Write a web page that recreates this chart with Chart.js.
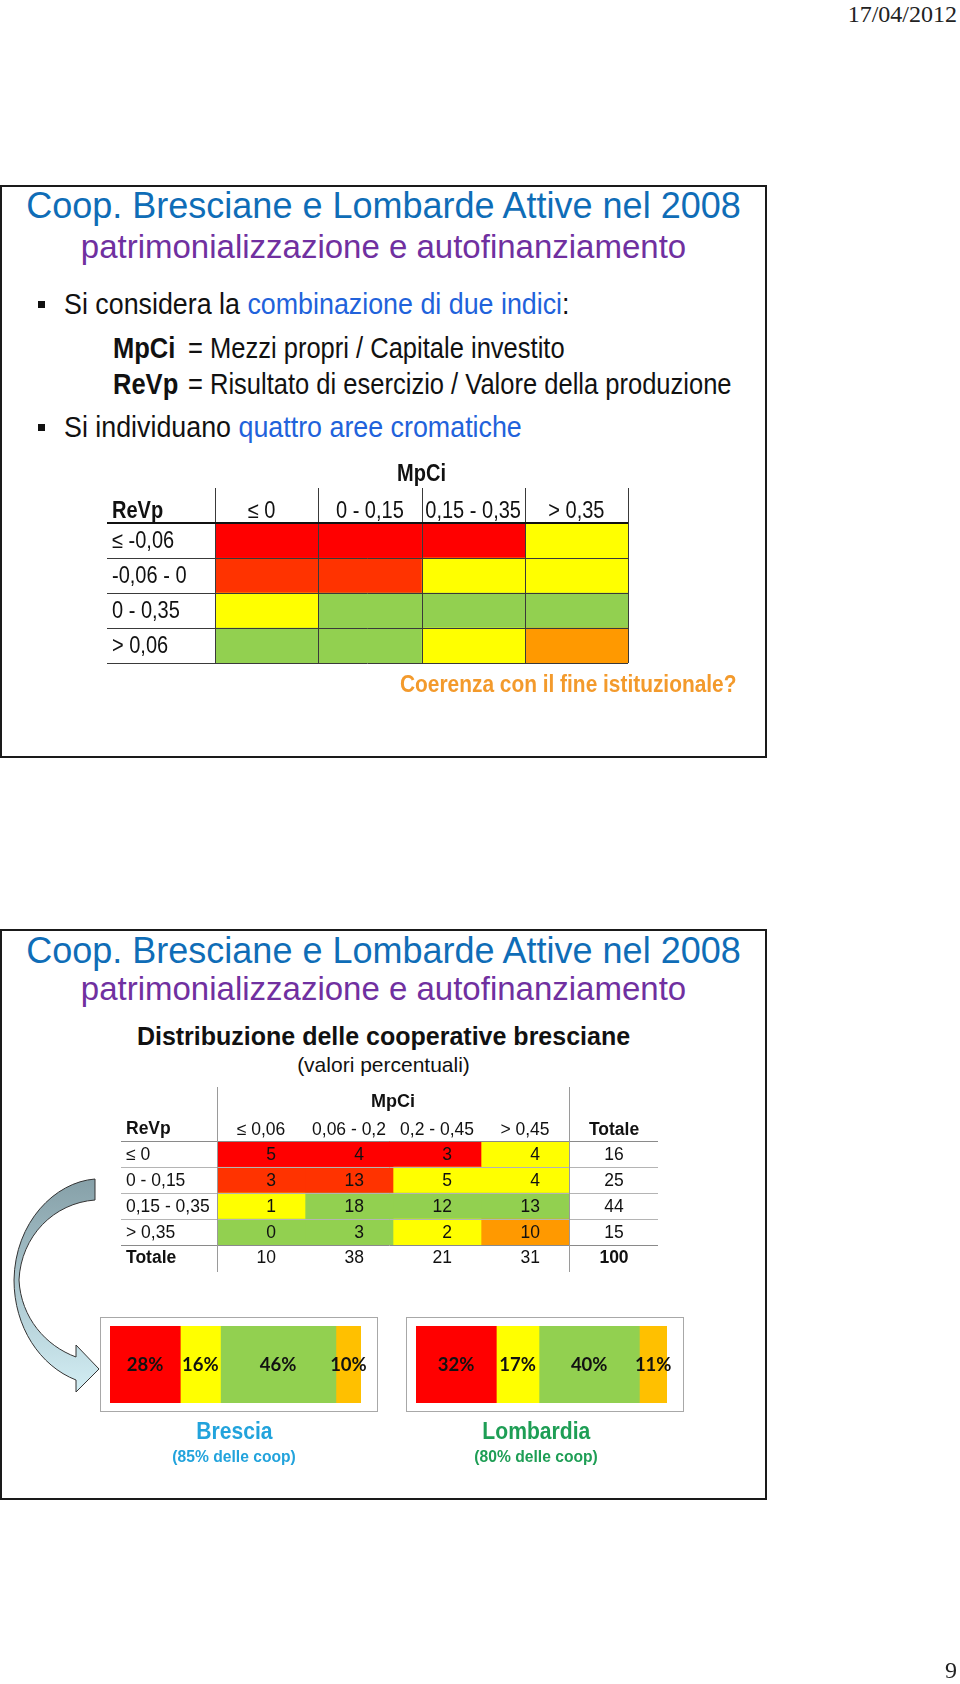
<!DOCTYPE html>
<html lang="it">
<head>
<meta charset="UTF-8">
<title>Coop. Bresciane e Lombarde Attive nel 2008</title>
<script src="https://cdn.jsdelivr.net/npm/chart.js"></script>
<style>
    body { margin: 0; background: #fff; font-family: 'Liberation Sans', Arial, sans-serif; }
    #page { position: relative; width: 960px; height: 1684px; overflow: hidden; }
    .abs { position: absolute; white-space: nowrap; line-height: 40px; height: 40px; }
    .slide { position: absolute; left: 0; width: 767px; box-sizing: border-box; border: 2px solid #1a1a1a; }
    .serif { font-family: 'Liberation Serif', serif; font-size: 24px; color: #222; }
    .title { left: 0; width: 767px; text-align: center; font-size: 36px; color: #0F6DB7; }
    .subtitle { left: 0; width: 767px; text-align: center; font-size: 33px; color: #7030A0; }
    .narrow { transform: scaleX(0.925); transform-origin: 0 50%; }
    .narrower { transform: scaleX(0.88); transform-origin: 0 50%; }
    .body1 { font-size: 29px; color: #111; }
    .blue { color: #2162DB; }
    .bullet { position: absolute; width: 7px; height: 7px; background: #111; }
    canvas { position: absolute; }
</style>
</head>
<body>
<div id="page">
    <div class="abs serif" style="right:3px; top:-6px;">17/04/2012</div>

    <!-- slide 1 -->
    <div class="slide" style="top:185px; height:573px;"></div>
    <div class="abs title" style="top:186px;">Coop. Bresciane e Lombarde Attive nel 2008</div>
    <div class="abs subtitle" style="top:227px;">patrimonializzazione e autofinanziamento</div>

    <div class="bullet" style="left:38px; top:301px;"></div>
    <div class="abs body1 narrow" style="left:64px; top:284px;">Si considera la <span class="blue">combinazione di due indici</span>:</div>
    <div class="abs body1 narrower" style="left:113px; top:328px;"><b>MpCi</b></div>
    <div class="abs body1 narrower" style="left:188px; top:328px;">= Mezzi propri / Capitale investito</div>
    <div class="abs body1 narrower" style="left:113px; top:364px;"><b>ReVp</b></div>
    <div class="abs body1 narrower" style="left:188px; top:364px;">= Risultato di esercizio / Valore della produzione</div>
    <div class="bullet" style="left:38px; top:424px;"></div>
    <div class="abs body1 narrow" style="left:64px; top:407px;">Si individuano <span class="blue">quattro aree cromatiche</span></div>

    <canvas id="grid1" width="545" height="210" style="left:100px; top:460px;"></canvas>
    <div class="abs" style="left:400px; top:664px; font-size:24px; font-weight:bold; color:#F39A2C;"><span style="display:inline-block; transform:scaleX(0.87); transform-origin:0 50%;">Coerenza con il fine istituzionale?</span></div>

    <!-- slide 2 -->
    <div class="slide" style="top:929px; height:571px;"></div>
    <div class="abs title" style="top:931px;">Coop. Bresciane e Lombarde Attive nel 2008</div>
    <div class="abs subtitle" style="top:969px;">patrimonializzazione e autofinanziamento</div>
    <div class="abs" style="left:0; width:767px; text-align:center; top:1016px; font-size:25px; font-weight:bold; color:#111;">Distribuzione delle cooperative bresciane</div>
    <div class="abs" style="left:0; width:767px; text-align:center; top:1045px; font-size:21px; color:#111;">(valori percentuali)</div>

    <canvas id="grid2" width="560" height="195" style="left:110px; top:1085px;"></canvas>

    <svg class="abs" style="left:0; top:0; height:1684px; line-height:normal;" width="960" height="1684">
        <defs>
            <linearGradient id="arrowFill" x1="0" y1="0" x2="0" y2="1">
                <stop offset="0" stop-color="#86a0a8"/>
                <stop offset="0.5" stop-color="#aac6ce"/>
                <stop offset="1" stop-color="#d3eef4"/>
            </linearGradient>
        </defs>
        <path d="M 95 1179 C 55 1182, 15 1222, 14 1280 C 14 1327, 40 1366, 76 1380 L 76 1392 L 99 1369 L 76 1345 L 76 1357 C 46 1346, 21 1318, 19 1280 C 21 1236, 54 1203, 95 1200 Z"
              fill="url(#arrowFill)" stroke="#333" stroke-width="1"/>
    </svg>

    <div style="position:absolute; left:100px; top:1317px; width:278px; height:95px; box-sizing:border-box; border:1.5px solid #a8a8a8;"></div>
    <canvas id="barBrescia" width="278" height="95" style="left:100px; top:1317px;"></canvas>
    <div style="position:absolute; left:406px; top:1317px; width:278px; height:95px; box-sizing:border-box; border:1.5px solid #a8a8a8;"></div>
    <canvas id="barLombardia" width="278" height="95" style="left:406px; top:1317px;"></canvas>

    <div class="abs" style="left:134px; width:200px; text-align:center; top:1411px; font-size:24px; font-weight:bold; color:#22A3DC;"><span style="display:inline-block; transform:scaleX(0.88);">Brescia</span></div>
    <div class="abs" style="left:134px; width:200px; text-align:center; top:1437px; font-size:17px; font-weight:bold; color:#22A3DC;"><span style="display:inline-block; transform:scaleX(0.92);">(85% delle coop)</span></div>
    <div class="abs" style="left:436px; width:200px; text-align:center; top:1411px; font-size:24px; font-weight:bold; color:#1E9E55;"><span style="display:inline-block; transform:scaleX(0.88);">Lombardia</span></div>
    <div class="abs" style="left:436px; width:200px; text-align:center; top:1437px; font-size:17px; font-weight:bold; color:#1E9E55;"><span style="display:inline-block; transform:scaleX(0.92);">(80% delle coop)</span></div>

    <div class="abs serif" style="right:3px; top:1650px;">9</div>
</div>

<script>
    // --- data ---
    // slide 1: schema of the colour areas
    const mpciBands1 = ['≤ 0', '0 - 0,15', '0,15 - 0,35', '> 0,35'];
    const revpBands1 = ['≤ -0,06', '-0,06 - 0', '0 - 0,35', '> 0,06'];
    const areas1 = [
        ['rosso', 'rosso', 'rosso', 'giallo'],
        ['rossoarancio', 'rossoarancio', 'giallo', 'giallo'],
        ['giallo', 'verde', 'verde', 'verde'],
        ['verde', 'verde', 'giallo', 'arancio']
    ];

    // slide 2: distribution of the Brescia coops (percent)
    const mpciBands2 = ['≤ 0,06', '0,06 - 0,2', '0,2 - 0,45', '> 0,45'];
    const revpBands2 = ['≤ 0', '0 - 0,15', '0,15 - 0,35', '> 0,35'];
    const areas2 = [
        ['rosso', 'rosso', 'rosso', 'giallo'],
        ['rossoarancio', 'rossoarancio', 'giallo', 'giallo'],
        ['giallo', 'verde', 'verde', 'verde'],
        ['verde', 'verde', 'giallo', 'arancio']
    ];
    const distrib = [
        [5, 4, 3, 4],
        [3, 13, 5, 4],
        [1, 18, 12, 13],
        [0, 3, 2, 10]
    ];
    const rowTotals = [16, 25, 44, 15];
    const colTotals = [10, 38, 21, 31];
    const grandTotal = 100;

    // share of coops in each colour area
    const barAreas = ['rosso', 'giallo', 'verde', 'arancio'];
    const shareBrescia = [28, 16, 46, 10];
    const shareLombardia = [32, 17, 40, 11];

    // --- styles ---
    const cellColors = {
        rosso: '#FF0000', rossoarancio: '#FF3300', giallo: '#FFFF00', verde: '#92D050', arancio: '#FF9900'
    };
    const barColors = { rosso: '#FF0000', giallo: '#FFFF00', verde: '#92D050', arancio: '#FFC000' };

    Chart.defaults.font.family = "'Liberation Sans', Arial, sans-serif";

    function text(ctx, s, x, y, align, font, sx) {
        ctx.save();
        ctx.font = font;
        ctx.textBaseline = 'middle';
        ctx.textAlign = align;
        ctx.translate(x, y);
        ctx.scale(sx || 1, 1);
        ctx.fillText(s, 0, 0);
        ctx.restore();
    }
    function line(ctx, x1, y1, x2, y2) {
        ctx.beginPath();
        ctx.moveTo(x1, y1);
        ctx.lineTo(x2, y2);
        ctx.stroke();
    }

    // one floating bar per cell: dataset = column, category = row
    function gridConfig(rows, cols, areas, padding, plugin) {
        return {
            type: 'bar',
            data: {
                labels: rows,
                datasets: cols.map((c, j) => ({
                    label: c,
                    data: rows.map(() => [j, j + 1]),
                    backgroundColor: rows.map((r, i) => cellColors[areas[i][j]]),
                    borderWidth: 0,
                    grouped: false,
                    barPercentage: 1,
                    categoryPercentage: 1
                }))
            },
            options: {
                indexAxis: 'y',
                responsive: false,
                animation: false,
                devicePixelRatio: 1,
                events: [],
                layout: { padding: padding },
                plugins: { legend: { display: false }, tooltip: { enabled: false } },
                scales: {
                    x: { type: 'linear', min: 0, max: cols.length, display: false },
                    y: { display: false }
                }
            },
            plugins: [plugin]
        };
    }

    // slide 1 table
    const grid1Plugin = {
        id: 'grid1Text',
        afterDatasetsDraw(chart) {
            const { ctx, chartArea: a, scales: { x, y } } = chart;
            const n = revpBands1.length;
            const rowH = (a.bottom - a.top) / n;
            const f = '23px "Liberation Sans", Arial, sans-serif';
            const fb = 'bold 23px "Liberation Sans", Arial, sans-serif';
            ctx.save();
            ctx.strokeStyle = '#3a3a3a';
            ctx.lineWidth = 1;
            for (let j = 0; j <= mpciBands1.length; j++) {
                const px = Math.round(x.getPixelForValue(j)) + 0.5;
                line(ctx, px, 28, px, a.bottom);
            }
            for (let i = 1; i <= n; i++) {
                const py = Math.round(a.top + i * rowH) + 0.5;
                line(ctx, 7, py, a.right, py);
            }
            ctx.strokeStyle = '#111';
            ctx.lineWidth = 2;
            line(ctx, 7, a.top, a.right, a.top);

            ctx.fillStyle = '#111';
            text(ctx, 'MpCi', (a.left + a.right) / 2, 15, 'center', fb, 0.87);
            text(ctx, 'ReVp', 12, 52, 'left', fb, 0.87);
            mpciBands1.forEach((c, j) => {
                text(ctx, c, x.getPixelForValue(j + 0.5) - (j === 0 ? 5 : 0), 52, 'center', f, 0.87);
            });
            revpBands1.forEach((r, i) => {
                text(ctx, r, 12, y.getPixelForValue(i) + 1, 'left', f, 0.87);
            });
            ctx.restore();
        }
    };
    new Chart(document.getElementById('grid1'),
        gridConfig(revpBands1, mpciBands1, areas1, { left: 115, top: 63, right: 17, bottom: 7 }, grid1Plugin));

    // slide 2 table
    const grid2Plugin = {
        id: 'grid2Text',
        afterDatasetsDraw(chart) {
            const { ctx, chartArea: a, scales: { x, y } } = chart;
            const n = revpBands2.length;
            const rowH = (a.bottom - a.top) / n;
            const f = '17.5px "Liberation Sans", Arial, sans-serif';
            const fb = 'bold 17.5px "Liberation Sans", Arial, sans-serif';
            const totX = 504;
            ctx.save();
            ctx.strokeStyle = '#b4b4b4';
            ctx.lineWidth = 1;
            for (let i = 1; i < n; i++) {
                const py = Math.round(a.top + i * rowH) + 0.5;
                line(ctx, 11, py, 548, py);
            }
            ctx.strokeStyle = '#8a8a8a';
            line(ctx, 11, Math.round(a.top) + 0.5, 548, Math.round(a.top) + 0.5);
            line(ctx, 11, Math.round(a.bottom) + 0.5, 548, Math.round(a.bottom) + 0.5);
            ctx.strokeStyle = '#9a9a9a';
            [0, mpciBands2.length].forEach(j => {
                const px = Math.round(x.getPixelForValue(j)) + 0.5;
                line(ctx, px, 2, px, 187);
            });

            ctx.fillStyle = '#111';
            text(ctx, 'MpCi', (a.left + a.right) / 2, 17, 'center', 'bold 18px "Liberation Sans", Arial, sans-serif');
            text(ctx, 'ReVp', 16, 44, 'left', fb);
            text(ctx, 'Totale', totX, 45, 'center', fb);
            mpciBands2.forEach((c, j) => {
                text(ctx, c, x.getPixelForValue(j + 0.5), 45, 'center', f);
            });
            revpBands2.forEach((r, i) => {
                const cy = y.getPixelForValue(i) + 1;
                text(ctx, r, 16, cy, 'left', f);
                distrib[i].forEach((v, j) => {
                    text(ctx, String(v), x.getPixelForValue(j + 1) - 29, cy, 'right', f);
                });
                text(ctx, String(rowTotals[i]), totX, cy, 'center', f);
            });
            const ty = a.bottom + 13;
            text(ctx, 'Totale', 16, ty, 'left', fb);
            colTotals.forEach((v, j) => {
                text(ctx, String(v), x.getPixelForValue(j + 1) - 29, ty, 'right', f);
            });
            text(ctx, String(grandTotal), totX, ty, 'center', fb);
            ctx.restore();
        }
    };
    new Chart(document.getElementById('grid2'),
        gridConfig(revpBands2, mpciBands2, areas2, { left: 107, top: 56, right: 101, bottom: 35 }, grid2Plugin));

    // stacked share bars
    const shareLabels = {
        id: 'shareLabels',
        afterDatasetsDraw(chart) {
            const ctx = chart.ctx;
            ctx.save();
            ctx.fillStyle = '#111';
            chart.data.datasets.forEach((ds, k) => {
                const el = chart.getDatasetMeta(k).data[0];
                text(ctx, ds.data[0] + '%', (el.x + el.base) / 2, el.y + 1, 'center', 'bold 18.5px Lato, "Open Sans", sans-serif');
            });
            ctx.restore();
        }
    };
    function shareBar(id, values) {
        new Chart(document.getElementById(id), {
            type: 'bar',
            data: {
                labels: [''],
                datasets: values.map((v, k) => ({
                    label: barAreas[k],
                    data: [v],
                    backgroundColor: barColors[barAreas[k]],
                    borderWidth: 0,
                    barPercentage: 1,
                    categoryPercentage: 1
                }))
            },
            options: {
                indexAxis: 'y',
                responsive: false,
                animation: false,
                devicePixelRatio: 1,
                events: [],
                layout: { padding: { left: 10, right: 17, top: 9, bottom: 9 } },
                plugins: { legend: { display: false }, tooltip: { enabled: false } },
                scales: {
                    x: { stacked: true, min: 0, max: 100, display: false },
                    y: { stacked: true, display: false }
                }
            },
            plugins: [shareLabels]
        });
    }
    shareBar('barBrescia', shareBrescia);
    shareBar('barLombardia', shareLombardia);
</script>
</body>
</html>
